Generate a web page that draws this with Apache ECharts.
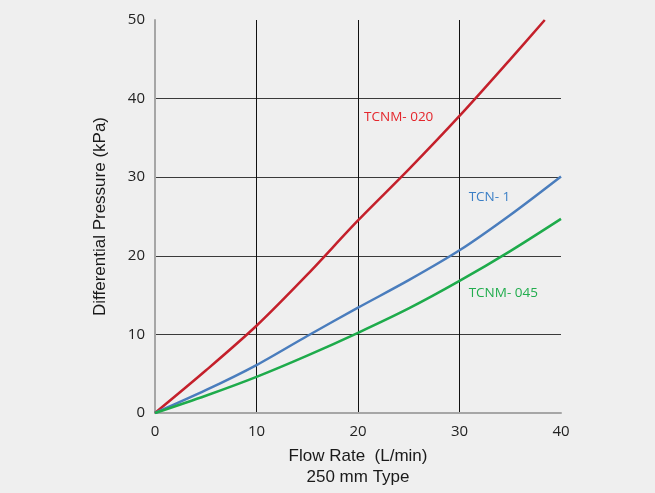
<!DOCTYPE html>
<html><head><meta charset="utf-8">
<script src="https://cdn.jsdelivr.net/npm/echarts@6/dist/echarts.min.js"></script>
<style>html,body{margin:0;padding:0;background:#efefef;}#c{width:655px;height:493px;}</style>
</head><body><div id="c"></div>
<script>
const flowRates = [0, 5, 10, 15, 20, 25, 30, 35, 38.4];
const tcnm020 = [0, 5.4, 11.1, 17.6, 24.5, 31.0, 37.8, 45.0, 50.0];
const flowRates2 = [0, 5, 10, 15, 20, 25, 30, 35, 40];
const tcn1 = [0, 2.9, 6.1, 9.8, 13.4, 16.9, 20.7, 25.2, 30.1];
const tcnm045 = [0, 2.2, 4.6, 7.3, 10.2, 13.3, 16.8, 20.6, 24.7];
const seriesNames = ['TCNM-020', 'TCN-1', 'TCNM-045'];
const labelTexts = ['TCNM- 020', 'TCN- 1', 'TCNM- 045'];
const labelAnchors = [[20.6, 37.6], [30.9, 27.5], [30.9, 15.2]];
const xTitle = 'Flow Rate  (L/min)\n250 mm Type';
const yTitle = 'Differential Pressure (kPa)';

const lineColors = ['#c4202b', '#4a7dbd', '#1eab4b'];
const textColors = ['#e4262c', '#3b7fc6', '#22ad4e'];

const chart = echarts.init(document.getElementById('c'), null, {renderer: 'canvas'});
const zip = (xs, ys) => xs.map((x, i) => [x, ys[i]]);
const dataSets = [zip(flowRates, tcnm020), zip(flowRates2, tcn1), zip(flowRates2, tcnm045)];

chart.setOption({
  backgroundColor: '#efefef',
  animation: false,
  grid: {left: 155, right: 94, top: 20, bottom: 80, containLabel: false},
  xAxis: {
    type: 'value', min: 0, max: 40, interval: 10,
    name: xTitle, nameLocation: 'middle', nameGap: 33,
    nameTextStyle: {fontFamily: 'Liberation Sans', fontSize: 17, color: '#1a1a1a', lineHeight: 21},
    axisLine: {show: true, lineStyle: {color: '#a6a6a6', width: 2}},
    axisTick: {show: false},
    axisLabel: {fontFamily: 'Open Sans', fontSize: 15, color: '#222', margin: 11},
    splitLine: {show: true, showMinLine: false, showMaxLine: false, lineStyle: {color: '#111', width: 1}}
  },
  yAxis: {
    type: 'value', min: 0, max: 50, interval: 10,
    name: yTitle, nameLocation: 'middle', nameGap: 46, nameRotate: 90,
    nameTextStyle: {fontFamily: 'Liberation Sans', fontSize: 17, color: '#1a1a1a'},
    axisLine: {show: true, lineStyle: {color: '#a6a6a6', width: 2}},
    axisTick: {show: false},
    axisLabel: {fontFamily: 'Open Sans', fontSize: 15, color: '#222', margin: 10},
    splitLine: {show: true, showMinLine: false, showMaxLine: false, lineStyle: {color: '#3a3a3a', width: 1}}
  },
  series: seriesNames.map((n, i) => ({
    name: n, type: 'line', data: dataSets[i], smooth: 0.3, showSymbol: false,
    lineStyle: {color: lineColors[i], width: 2.5}, z: 5
  }))
});

const graphics = labelTexts.map((n, i) => {
  const p = chart.convertToPixel({gridIndex: 0}, labelAnchors[i]);
  return {type: 'text', x: p[0], y: p[1], style: {text: n, fill: textColors[i], font: '13.5px "Open Sans"', verticalAlign: 'middle'}, z: 10};
});
chart.setOption({graphic: graphics});
</script></body></html>
